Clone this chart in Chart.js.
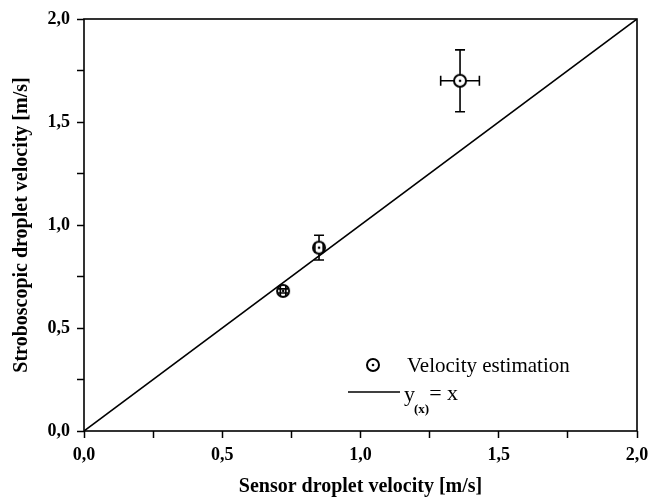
<!DOCTYPE html>
<html>
<head>
<meta charset="utf-8">
<script src="https://cdn.jsdelivr.net/npm/chart.js@4.4.1/dist/chart.umd.min.js"></script>
<style>
  html, body { margin: 0; padding: 0; background: #fff; }
  #wrap { width: 658px; height: 498px; }
</style>
</head>
<body>
<div id="wrap"><canvas id="chart1" width="658" height="498"></canvas></div>
<script>
// measured velocities (sensor vs stroboscope) with error bars
const sensorVel = [0.72, 0.85, 1.36];
const stroboVel = [0.68, 0.89, 1.70];
const sensorErr = [0.01, 0.015, 0.07];
const stroboErr = [0.01, 0.06, 0.15];

// reference line y = x
const lineX = [0, 2];
const lineY = [0, 2];

const tickValues = [0, 0.5, 1.0, 1.5, 2.0];
const legendLabels = ['Velocity estimation', 'y', '(x)', '= x'];

const serif = "'Liberation Serif', 'Times New Roman', serif";

// open circle with a dot in the middle
function makeMarker() {
    const c = document.createElement('canvas');
    c.width = 18; c.height = 18;
    const g = c.getContext('2d');
    g.beginPath();
    g.arc(9, 9, 6, 0, Math.PI * 2);
    g.fillStyle = '#fff';
    g.fill();
    g.lineWidth = 2;
    g.strokeStyle = '#000';
    g.stroke();
    g.beginPath();
    g.arc(9, 9, 1.3, 0, Math.PI * 2);
    g.fillStyle = '#000';
    g.fill();
    return c;
}
const marker = makeMarker();

const points = sensorVel.map((x, i) => ({ x: x, y: stroboVel[i] }));
const linePts = lineX.map((x, i) => ({ x: x, y: lineY[i] }));

// error bars, drawn from the data through the scales
const errorBars = {
    id: 'errorBars',
    afterDatasetsDraw(chart) {
        const ctx = chart.ctx;
        const xs = chart.scales.x, ys = chart.scales.y;
        const gap = 6, cap = 5;
        ctx.save();
        ctx.strokeStyle = '#000';
        ctx.lineWidth = 1.6;
        sensorVel.forEach((v, i) => {
            const cx = xs.getPixelForValue(v);
            const cy = ys.getPixelForValue(stroboVel[i]);
            const x0 = xs.getPixelForValue(v - sensorErr[i]);
            const x1 = xs.getPixelForValue(v + sensorErr[i]);
            const y0 = ys.getPixelForValue(stroboVel[i] + stroboErr[i]);
            const y1 = ys.getPixelForValue(stroboVel[i] - stroboErr[i]);
            ctx.beginPath();
            if (cy - y0 > gap) {
                ctx.moveTo(cx, cy - gap); ctx.lineTo(cx, y0);
                ctx.moveTo(cx, y1); ctx.lineTo(cx, cy + gap);
            }
            ctx.moveTo(cx - cap, y0); ctx.lineTo(cx + cap, y0);
            ctx.moveTo(cx - cap, y1); ctx.lineTo(cx + cap, y1);
            if (cx - x0 > gap) {
                ctx.moveTo(x0, cy); ctx.lineTo(cx - gap, cy);
                ctx.moveTo(cx + gap, cy); ctx.lineTo(x1, cy);
            }
            ctx.moveTo(x0, cy - cap); ctx.lineTo(x0, cy + cap);
            ctx.moveTo(x1, cy - cap); ctx.lineTo(x1, cy + cap);
            ctx.stroke();
        });
        ctx.restore();
    }
};

// box around the plot and the legend inside it
const frameAndLegend = {
    id: 'frameAndLegend',
    afterDraw(chart) {
        const ctx = chart.ctx;
        const a = chart.chartArea;
        ctx.save();
        ctx.strokeStyle = '#000';
        ctx.lineWidth = 1.6;
        ctx.strokeRect(a.left, a.top, a.right - a.left, a.bottom - a.top);

        // legend
        ctx.drawImage(marker, 373 - 9, 365 - 9);
        ctx.fillStyle = '#000';
        ctx.textBaseline = 'middle';
        ctx.font = '21px ' + serif;
        ctx.fillText(legendLabels[0], 407, 366);

        ctx.beginPath();
        ctx.lineWidth = 1.5;
        ctx.moveTo(348, 392);
        ctx.lineTo(400, 392);
        ctx.stroke();
        ctx.textBaseline = 'alphabetic';
        ctx.font = '22px ' + serif;
        ctx.fillText(legendLabels[1], 404, 401);
        let w = ctx.measureText(legendLabels[1]).width;
        ctx.font = 'bold 13px ' + serif;
        ctx.fillText(legendLabels[2], 403 + w, 413);
        let w2 = ctx.measureText(legendLabels[2]).width;
        ctx.font = '22px ' + serif;
        ctx.fillText(legendLabels[3], 403 + w + w2, 400);
        ctx.restore();
    }
};

function axisTicks(axis) {
    axis.ticks = [];
    for (let v = 0; v <= 2.0001; v += 0.25) axis.ticks.push({ value: Math.round(v * 100) / 100 });
}
function tickText(v) {
    return tickValues.includes(v) ? v.toFixed(1).replace('.', ',') : '';
}

const ctx1 = document.querySelector('#chart1').getContext('2d');
const chart1 = new Chart(ctx1, {
    type: 'scatter',
    data: {
        datasets: [{
            label: 'Velocity estimation',
            data: points,
            pointStyle: marker,
            pointRadius: 7,
            order: 0
        }, {
            label: 'y(x) = x',
            type: 'line',
            data: linePts,
            borderColor: '#000',
            borderWidth: 1.6,
            pointRadius: 0,
            fill: false,
            order: 1
        }]
    },
    plugins: [errorBars, frameAndLegend],
    options: {
        responsive: false,
        animation: false,
        layout: { padding: { top: 19, right: 21, left: 0, bottom: 0 } },
        plugins: { legend: { display: false }, tooltip: { enabled: false } },
        scales: {
            x: {
                type: 'linear',
                min: 0, max: 2,
                afterBuildTicks: axisTicks,
                afterFit(s) { s.height = 67; },
                border: { display: false },
                grid: { drawOnChartArea: false, tickLength: 7, color: '#000', tickWidth: 1.5 },
                ticks: {
                    callback: tickText,
                    color: '#000',
                    padding: 7,
                    maxRotation: 0,
                    autoSkip: false,
                    font: { family: serif, size: 18, weight: 'bold' }
                },
                title: {
                    display: true,
                    text: 'Sensor droplet velocity [m/s]',
                    color: '#000',
                    padding: { top: 0, bottom: -1 },
                    font: { family: serif, size: 20, weight: 'bold' }
                }
            },
            y: {
                type: 'linear',
                min: 0, max: 2,
                afterBuildTicks: axisTicks,
                afterFit(s) { s.width = 84; },
                border: { display: false },
                grid: { drawOnChartArea: false, tickLength: 7, color: '#000', tickWidth: 1.5 },
                ticks: {
                    callback: tickText,
                    color: '#000',
                    padding: 7,
                    autoSkip: false,
                    font: { family: serif, size: 18, weight: 'bold' }
                },
                title: {
                    display: true,
                    text: 'Stroboscopic droplet velocity [m/s]',
                    color: '#000',
                    padding: { top: 10, bottom: 0 },
                    font: { family: serif, size: 20, weight: 'bold' }
                }
            }
        }
    }
});
</script>
</body>
</html>
